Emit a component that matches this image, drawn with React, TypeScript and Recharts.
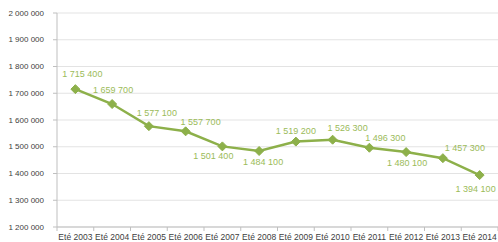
import React from 'react';
import { LineChart, Line, XAxis, YAxis, CartesianGrid, LabelList } from 'recharts';

const categories = ['Eté 2003', 'Eté 2004', 'Eté 2005', 'Eté 2006', 'Eté 2007', 'Eté 2008', 'Eté 2009', 'Eté 2010', 'Eté 2011', 'Eté 2012', 'Eté 2013', 'Eté 2014'];
const values = [1715400, 1659700, 1577100, 1557700, 1501400, 1484100, 1519200, 1526300, 1496300, 1480100, 1457300, 1394100];
const yTicks = [1200000, 1300000, 1400000, 1500000, 1600000, 1700000, 1800000, 1900000, 2000000];

// label placement relative to each marker (style only)
const labelDx = [7, 1, 8, 15, -9, 4, 0, 15, 16, 1, 22, -4];
const labelDy = [-15, -14, -13, -9, 10, 11, -11, -12, -10, 11, -10, 14];

const data = categories.map((c, i) => ({ name: c, value: values[i] }));

const fmt = (v: number) => String(v).replace(/\B(?=(\d{3})+(?!\d))/g, ' ');

const GREEN = '#8db04a';
const LABEL_GREEN = '#9bbb59';
const FONT = 'Liberation Sans, Arial, sans-serif';

const Diamond = (props: any) => {
  const { cx, cy } = props;
  if (cx == null || cy == null) return null;
  const r = 4.5;
  return <path d={`M${cx},${cy - r}L${cx + r},${cy}L${cx},${cy + r}L${cx - r},${cy}Z`} fill={GREEN} stroke={GREEN} />;
};

const PointLabel = (props: any) => {
  const { x, y, index, value } = props;
  return (
    <text x={x + labelDx[index]} y={y + labelDy[index]} textAnchor="middle" dominantBaseline="central" fill={LABEL_GREEN} fontSize={9} fontFamily={FONT}>
      {fmt(value)}
    </text>
  );
};

const BW = 441 / 12;

const XTick = (props: any) => {
  const { x, y, payload, index } = props;
  return (
    <g>
      <line x1={x - BW / 2} y1={y - 8} x2={x - BW / 2} y2={y - 4} stroke="#bfbfbf" />
      {index === categories.length - 1 && (
        <line x1={x + BW / 2} y1={y - 8} x2={x + BW / 2} y2={y - 4} stroke="#bfbfbf" />
      )}
      <text x={x} y={y + 2} textAnchor="middle" dominantBaseline="central" fill="#404040" fontSize={8.5} fontFamily={FONT}>
        {payload.value}
      </text>
    </g>
  );
};

const YTick = (props: any) => {
  const { x, y, payload } = props;
  return (
    <text x={x - 7} y={y} textAnchor="end" dominantBaseline="central" fill="#404040" fontSize={8} fontFamily={FONT}>
      {fmt(payload.value)}
    </text>
  );
};

export default function App() {
  return (
    <div style={{ position: 'absolute', left: 0, top: 0, background: '#fff' }}>
      <LineChart width={498} height={242} data={data} margin={{ top: 13, right: 0, bottom: 0, left: 0 }}>
        <CartesianGrid vertical={false} stroke="#e3e3e3" />
        <XAxis
          dataKey="name"
          scale="band"
          height={15}
          tickLine={false}
          axisLine={{ stroke: '#bfbfbf' }}
          tick={<XTick />}
          interval={0}
        />
        <YAxis
          width={57}
          domain={[1200000, 2000000]}
          ticks={yTicks}
          axisLine={{ stroke: '#bfbfbf' }}
          tickLine={{ stroke: '#bfbfbf' }}
          tickSize={4}
          tick={<YTick />}
        />
        <Line
          type="linear"
          dataKey="value"
          stroke={GREEN}
          strokeWidth={2.5}
          dot={<Diamond />}
          isAnimationActive={false}
        >
          <LabelList dataKey="value" content={<PointLabel />} />
        </Line>
      </LineChart>
    </div>
  );
}
